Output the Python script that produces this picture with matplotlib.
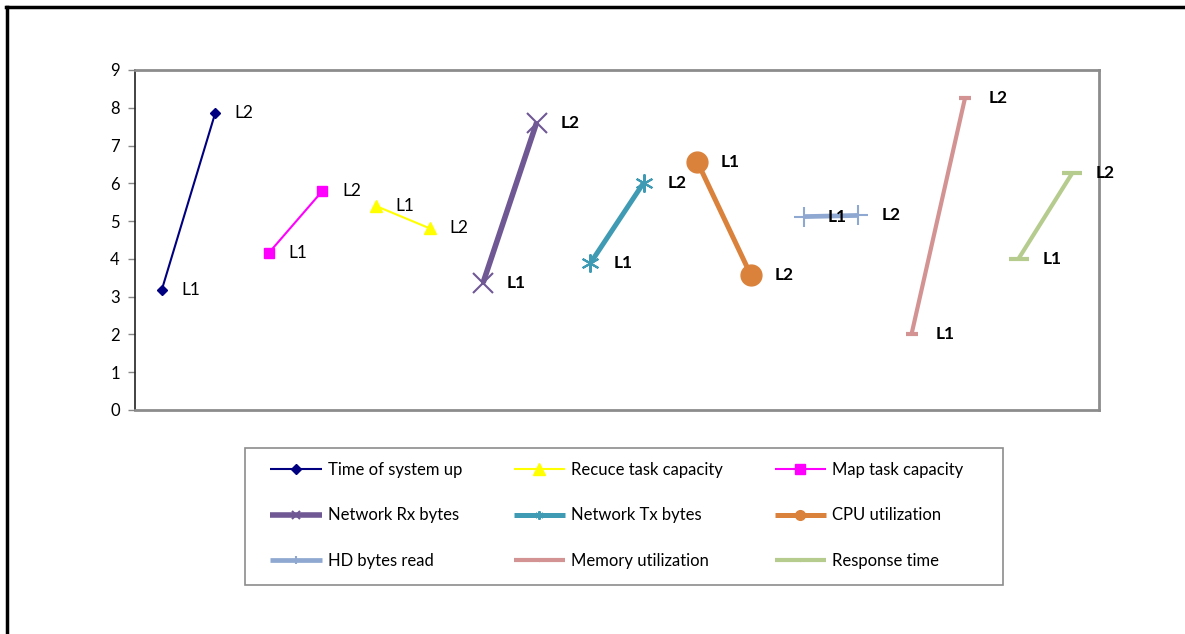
import numpy as np
import matplotlib
matplotlib.use("Agg")
import matplotlib.pyplot as plt
from matplotlib.lines import Line2D
from matplotlib.patches import Rectangle

plt.rcParams['font.family'] = ['Lato', 'DejaVu Sans']

# Metrics, each measured at two points (L1, L2)
series_names = ["Time of system up", "Map task capacity", "Recuce task capacity",
                "Network Rx bytes", "Network Tx bytes", "CPU utilization",
                "HD bytes read", "Memory utilization", "Response time"]
l1_values = [3.18, 4.16, 5.40, 3.37, 3.88, 6.57, 5.12, 2.01, 4.01]
l2_values = [7.87, 5.80, 4.81, 7.61, 6.02, 3.57, 5.15, 8.27, 6.27]
point_labels = ["L1", "L2"]
y_ticks = list(range(0, 10))

colors = ["#000080", "#FF00FF", "#FFFF00", "#6F5894", "#3F9AB3",
          "#DA823B", "#8EA8D1", "#D49393", "#B5CC8E"]
linewidths = [1.5, 1.5, 1.5, 4.0, 3.6, 3.6, 3.4, 3.0, 3.0]
markers = ["D", "s", "^", "x", (6, 2, 0), "o", "+", "_", "_"]
markersizes = [5, 7, 8, 15, 13, 15, 14, 9, 14]
mews = [1, 1, 1, 1.5, 1.5, 1, 1.5, 3.0, 3.0]
bold_labels = [False, False, False, True, True, True, True, True, True]
# legend entries listed column by column (rows read: Time/Reduce/Map, Rx/Tx/CPU, HD/Memory/Response)
legend_order = [0, 3, 6, 2, 4, 7, 1, 5, 8]

n_cat = 2 * len(series_names)

fig = plt.figure(figsize=(11.85, 6.34), dpi=100)
ax = fig.add_axes([135 / 1185, 1 - 410 / 634, (1099 - 135) / 1185, (410 - 70) / 634])

lines = []
for i, name in enumerate(series_names):
    y = np.full(n_cat, np.nan)
    y[2 * i] = l1_values[i]
    y[2 * i + 1] = l2_values[i]
    ln, = ax.plot(np.arange(n_cat), y, color=colors[i], lw=linewidths[i],
                  marker=markers[i], ms=markersizes[i], mew=mews[i],
                  mfc=colors[i], mec=colors[i], label=name,
                  solid_capstyle='butt', zorder=3)
    lines.append(ln)
    for k, val in enumerate((l1_values[i], l2_values[i])):
        off = 17 if bold_labels[i] else 14
        ax.annotate(point_labels[k], (2 * i + k, val), xytext=(off, 0),
                    textcoords='offset points', va='center', ha='left',
                    fontsize=12.5, fontweight='bold' if bold_labels[i] else 'normal',
                    color='black', zorder=5)

ax.set_xlim(-0.5, n_cat - 0.5)
ax.set_ylim(0, 9)
ax.set_yticks(y_ticks)
ax.set_xticks([])
ax.tick_params(axis='y', direction='out', length=5, width=1, color='#888888',
               labelsize=12, pad=6)
for side in ('top', 'right', 'bottom'):
    ax.spines[side].set_color('#8C8C8C')
    ax.spines[side].set_linewidth(2)
ax.spines['left'].set_color('#222222')
ax.spines['left'].set_linewidth(1.2)

# Legend box
fig.add_artist(Rectangle((245 / 1185, 1 - 585 / 634), (1003 - 245) / 1185, (585 - 448) / 634,
                         transform=fig.transFigure, fill=False, edgecolor='#8C8C8C', lw=1.2))

handles = [lines[i] for i in legend_order]
labels = [series_names[i] for i in legend_order]
leg = fig.legend(handles, labels, ncol=3, loc='upper left',
                 bbox_to_anchor=(270 / 1185, 1 - 462 / 634), frameon=False,
                 fontsize=12, handlelength=3.1, handletextpad=0.35,
                 columnspacing=3.1, labelspacing=1.76, borderpad=0, borderaxespad=0)
legend_ms = {3: 6, 4: 6, 5: 7, 6: 6, 7: 0.1, 8: 0.1}
for h, i in zip(leg.legend_handles, legend_order):
    if i in legend_ms:
        h.set_markersize(legend_ms[i])

# Outer frame (top and left edges)
fig.add_artist(Line2D([6 / 1185, 1.0], [1 - 7 / 634, 1 - 7 / 634], color='black', lw=2.5,
                      transform=fig.transFigure))
fig.add_artist(Line2D([7 / 1185, 7 / 1185], [0, 1 - 7 / 634], color='black', lw=2.5,
                      transform=fig.transFigure))

fig.savefig("out.png", dpi=100, facecolor='white')
